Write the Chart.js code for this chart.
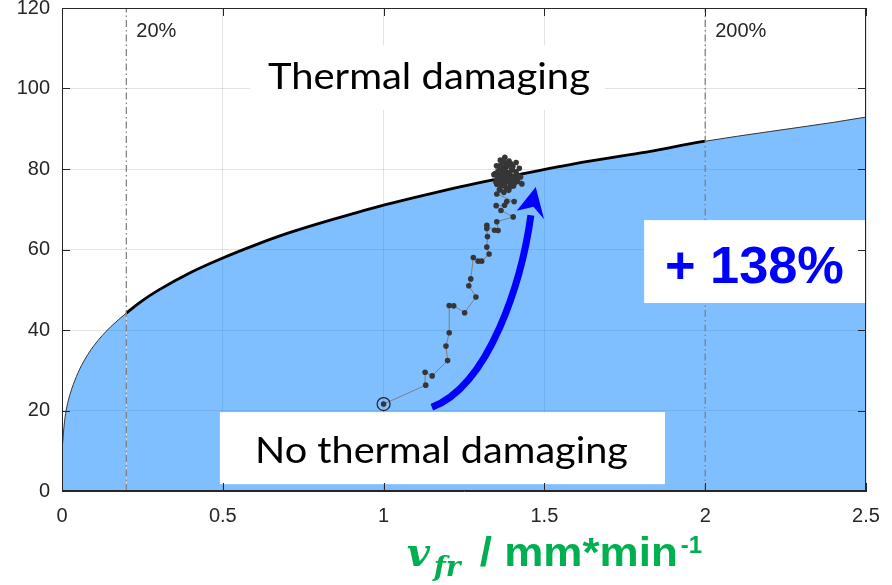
<!DOCTYPE html>
<html>
<head>
<meta charset="UTF-8">
<title>Thermal damaging limit</title>
<script src="https://cdn.jsdelivr.net/npm/chart.js@4.4.1/dist/chart.umd.min.js"></script>
<style>
  body { margin: 0; background: #fff; }
  #holder { width: 892px; height: 585px; }
</style>
</head>
<body>
<div id="holder"><canvas id="canvas" width="892" height="585"></canvas></div>
<script>
// limit curve
var curveX = [0, 0.001, 0.003, 0.006, 0.01, 0.015, 0.02, 0.03, 0.04, 0.05, 0.06, 0.08, 0.1, 0.125, 0.15, 0.2,
              0.25, 0.3, 0.4, 0.5, 0.6, 0.7, 0.8, 0.9, 1.0, 1.2, 1.4, 1.6, 1.8, 2.0, 2.2, 2.4, 2.5];
var curveY = [0, 9.4, 12.8, 15.8, 18.6, 20.9, 22.6, 25.3, 27.5, 29.4, 31.1, 33.9, 36.2, 38.6, 40.7, 44.2,
              47.3, 49.9, 54.3, 57.9, 61.1, 64.0, 66.5, 68.8, 71.0, 74.9, 78.3, 81.4, 84.0, 86.9, 89.3, 91.6, 92.9];

// limit markers
var limitX = [0.2, 2.0];
var limitLabels = ['20%', '200%'];

// process trajectory, start point first
var pathX = [1.000, 1.131, 1.129, 1.151, 1.199, 1.194, 1.204, 1.204, 1.218, 1.252, 1.287, 1.265, 1.271, 1.279,
             1.294, 1.305, 1.328, 1.321, 1.323, 1.321, 1.321, 1.345, 1.356, 1.352, 1.403, 1.365, 1.350, 1.376,
             1.383, 1.406, 1.352, 1.362,
             1.352, 1.361, 1.370, 1.383, 1.392, 1.378, 1.366, 1.359, 1.372, 1.386, 1.398, 1.405, 1.395, 1.381,
             1.368, 1.356, 1.347, 1.351, 1.363, 1.377, 1.390, 1.402, 1.411, 1.414, 1.404, 1.389, 1.374, 1.360,
             1.349, 1.343, 1.357, 1.369, 1.380, 1.388, 1.379, 1.365, 1.373, 1.384, 1.397, 1.408, 1.418, 1.422,
             1.412, 1.396, 1.383, 1.371, 1.362, 1.376, 1.392, 1.400, 1.387, 1.375, 1.366, 1.355, 1.381, 1.394,
             1.417, 1.426, 1.430];
var pathY = [21.6, 26.3, 29.5, 28.6, 32.4, 36.0, 39.3, 46.1, 46.0, 44.3, 48.2, 51.0, 52.7, 58.0,
             57.1, 57.1, 58.9, 60.6, 63.2, 65.2, 66.0, 64.8, 64.7, 66.9, 68.1, 69.7, 70.9, 71.0,
             71.9, 71.9, 73.8, 74.8,
             76.2, 78.4, 80.1, 79.2, 77.6, 76.5, 77.9, 80.6, 81.8, 81.0, 79.8, 78.1, 76.4, 75.3,
             75.9, 77.1, 78.9, 80.8, 82.2, 82.9, 82.0, 80.7, 79.3, 77.5, 75.8, 74.7, 74.2, 74.9,
             76.8, 78.6, 79.5, 78.8, 77.9, 78.7, 80.4, 80.9, 79.4, 76.9, 77.2, 76.6, 78.4, 80.2,
             81.6, 81.3, 80.6, 77.2, 76.3, 78.2, 79.0, 80.0, 77.8, 79.9, 79.2, 78.1, 81.5, 75.6,
             76.9, 78.0, 76.3];

// tick labels
var xTicks = [0, 0.5, 1, 1.5, 2, 2.5];
var yTicks = [0, 20, 40, 60, 80, 100, 120];

var curve = curveX.map(function (x, i) { return { x: x, y: curveY[i] }; });
var path = pathX.map(function (x, i) { return { x: x, y: pathY[i] }; });

// annotations, in data units
var boxes = [
  { x0: 0.585, x1: 1.688, y0: 94.6, y1: 110.8 },
  { x0: 0.491, x1: 1.875, y0: 1.7, y1: 19.6 },
  { x0: 1.810, x1: 2.5, y0: 46.7, y1: 67.3 }
];
var notes = [
  { text: 'Thermal damaging', x: 1.141, y: 99.9, font: '36px Lato', color: '#000', w: 322 },
  { text: 'No thermal damaging', x: 1.180, y: 7.0, font: '36px Lato', color: '#000', w: 373 },
  { text: '+ 138%', x: 2.153, y: 51.8, font: 'bold 52px "Liberation Sans"', color: '#0000ff', w: 179 }
];

function fitText(ctx, text, cx, y, w) {
  var m = ctx.measureText(text).width;
  var s = w / m;
  ctx.save();
  ctx.translate(cx, y);
  ctx.scale(s, 1);
  ctx.textAlign = 'center';
  ctx.fillText(text, 0, 0);
  ctx.restore();
}

var overlay = {
  id: 'overlay',
  afterDatasetsDraw: function (chart) {
    var ctx = chart.ctx, xs = chart.scales.x, ys = chart.scales.y;
    function px(v) { return xs.getPixelForValue(v); }
    function py(v) { return ys.getPixelForValue(v); }
    ctx.save();
    ctx.fillStyle = '#fff';
    boxes.forEach(function (b) {
      ctx.fillRect(px(b.x0), py(b.y1), px(b.x1) - px(b.x0), py(b.y0) - py(b.y1));
    });
    ctx.textBaseline = 'alphabetic';
    notes.forEach(function (n) {
      ctx.font = n.font;
      ctx.fillStyle = n.color;
      fitText(ctx, n.text, px(n.x), py(n.y), n.w);
    });

    // limit labels
    ctx.font = '20px "Liberation Sans"';
    ctx.fillStyle = '#262626';
    ctx.textAlign = 'left';
    limitX.forEach(function (x, i) {
      ctx.fillText(limitLabels[i], px(x) + 10, py(112.8));
    });

    // blue arrow
    ctx.strokeStyle = '#0000ff';
    ctx.fillStyle = '#0000ff';
    ctx.lineWidth = 7;
    ctx.lineCap = 'butt';
    ctx.beginPath();
    ctx.moveTo(px(1.150), py(20.8));
    ctx.bezierCurveTo(px(1.331), py(26.3), px(1.430), py(52.4), px(1.458), py(68.5));
    ctx.stroke();
    ctx.beginPath();
    ctx.moveTo(px(1.473), py(75.5));
    ctx.lineTo(px(1.499), py(67.5));
    ctx.lineTo(px(1.466), py(70.6));
    ctx.lineTo(px(1.414), py(69.6));
    ctx.closePath();
    ctx.fill();
    ctx.restore();
  },
  afterDraw: function (chart) {
    var ctx = chart.ctx, a = chart.chartArea, xs = chart.scales.x, ys = chart.scales.y;
    ctx.save();
    ctx.strokeStyle = '#262626';
    ctx.lineWidth = 1;
    ctx.strokeRect(a.left + 0.5, a.top + 0.5, a.right - a.left - 1, a.bottom - a.top - 1);
    ctx.beginPath();
    xTicks.forEach(function (v) {
      var x = Math.round(xs.getPixelForValue(v)) + 0.5;
      ctx.moveTo(x, a.bottom); ctx.lineTo(x, a.bottom - 8);
      ctx.moveTo(x, a.top); ctx.lineTo(x, a.top + 8);
    });
    yTicks.forEach(function (v) {
      var y = Math.round(ys.getPixelForValue(v)) + 0.5;
      ctx.moveTo(a.left, y); ctx.lineTo(a.left + 8, y);
      ctx.moveTo(a.right, y); ctx.lineTo(a.right - 8, y);
    });
    ctx.stroke();

    // axis title
    var x0 = xs.getPixelForValue(1.072), base = a.bottom + 75;
    ctx.fillStyle = '#00b050';
    ctx.textAlign = 'left';
    ctx.textBaseline = 'alphabetic';
    ctx.font = 'italic bold 40px "DejaVu Serif"';
    ctx.fillText('v', x0, base);
    ctx.font = 'italic bold 28px "DejaVu Serif"';
    ctx.fillText('fr', x0 + 27, base + 10);
    ctx.font = 'bold 40px "Liberation Sans"';
    var t = '/ mm*min';
    var s = 198 / ctx.measureText(t).width;
    ctx.save();
    ctx.translate(x0 + 73, base);
    ctx.scale(s, 1);
    ctx.fillText(t, 0, 0);
    ctx.restore();
    ctx.font = 'bold 24px "Liberation Sans"';
    ctx.fillText('-1', x0 + 274, base - 13);
    ctx.restore();
  }
};

var gridColor = 'rgba(38,38,38,0.13)';

var limitSets = limitX.map(function (x) {
  return {
    data: [{ x: x, y: 0 }, { x: x, y: 120 }],
    showLine: true,
    borderColor: '#7a7a7a',
    borderWidth: 1.2,
    borderDash: [7, 3, 1.5, 3],
    pointRadius: 0,
    order: 3
  };
});

new Chart(document.getElementById('canvas'), {
  type: 'scatter',
  data: {
    datasets: [
      {
        data: [path[0]],
        pointRadius: 6.5,
        pointBackgroundColor: 'rgba(0,0,0,0)',
        pointBorderColor: '#222',
        pointBorderWidth: 1.2,
        order: 0
      },
      {
        data: path,
        showLine: true,
        borderColor: '#7f7f7f',
        borderWidth: 1,
        pointRadius: 2.8,
        pointBackgroundColor: '#363636',
        pointBorderWidth: 0,
        order: 1
      }
    ].concat(limitSets).concat([
      {
        data: curve,
        showLine: true,
        fill: 'origin',
        backgroundColor: 'rgba(0,128,255,0.5)',
        borderColor: '#111',
        borderWidth: 1,
        cubicInterpolationMode: 'monotone',
        pointRadius: 0,
        segment: {
          borderWidth: function (c) {
            return (c.p0.parsed.x >= 0.2 && c.p1.parsed.x <= 2.0) ? 2.8 : 1;
          },
          borderColor: function (c) {
            return (c.p0.parsed.x >= 0.2 && c.p1.parsed.x <= 2.0) ? '#000' : '#333';
          }
        },
        order: 5
      }
    ])
  },
  options: {
    responsive: false,
    devicePixelRatio: 1,
    animation: false,
    layout: { padding: { top: 8, right: 26, left: 0, bottom: 0 } },
    plugins: { legend: { display: false }, tooltip: { enabled: false } },
    scales: {
      x: {
        type: 'linear',
        min: 0,
        max: 2.5,
        afterBuildTicks: function (s) { s.ticks = xTicks.map(function (v) { return { value: v }; }); },
        afterFit: function (s) {
          s.height = 94;
          s.paddingLeft = 0; s.paddingRight = 0;
        },
        grid: { color: gridColor, drawTicks: false },
        border: { color: '#262626' },
        ticks: {
          padding: 13,
          color: '#262626',
          font: { family: '"Liberation Sans"', size: 20 },
          maxRotation: 0,
          callback: function (v) { return String(v); }
        }
      },
      y: {
        type: 'linear',
        min: 0,
        max: 120,
        afterBuildTicks: function (s) { s.ticks = yTicks.map(function (v) { return { value: v }; }); },
        afterFit: function (s) {
          s.width = 62;
          s.paddingTop = 0; s.paddingBottom = 0;
        },
        grid: { color: gridColor, drawTicks: false },
        border: { color: '#262626' },
        ticks: {
          padding: 12,
          color: '#262626',
          font: { family: '"Liberation Sans"', size: 20 },
          callback: function (v) { return String(v); }
        }
      }
    }
  },
  plugins: [overlay]
});
</script>
</body>
</html>
